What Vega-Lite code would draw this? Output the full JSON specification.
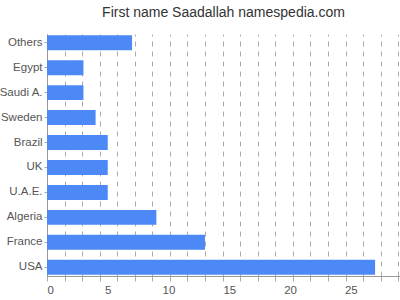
{
  "$schema": "https://vega.github.io/schema/vega-lite/v6.json",
  "width": 353,
  "height": 242,
  "autosize": {"type": "none"},
  "padding": {"left": 47, "top": 34, "right": 0, "bottom": 24},
  "title": {"text": "First name Saadallah namespedia.com", "fontSize": 14, "fontWeight": "normal", "color": "#333333", "font": "Liberation Sans", "offset": 14},
  "config": {"view": {"stroke": null}, "axis": {"labelFont": "Liberation Sans", "labelFontSize": 11.5, "labelColor": "#555555", "domainColor": "#999999", "tickColor": "#aaaaaa"}},
  "data": {"values": [
    {"country": "Others", "count": 7},
    {"country": "Egypt", "count": 3},
    {"country": "Saudi A.", "count": 3},
    {"country": "Sweden", "count": 4},
    {"country": "Brazil", "count": 5},
    {"country": "UK", "count": 5},
    {"country": "U.A.E.", "count": 5},
    {"country": "Algeria", "count": 9},
    {"country": "France", "count": 13},
    {"country": "USA", "count": 27}
  ]},
  "layer": [
    {
      "mark": {"type": "bar", "color": "#4d88f7"},
      "encoding": {
        "y": {"field": "country", "type": "nominal", "sort": null, "title": null,
              "scale": {"paddingInner": 0.4, "paddingOuter": 0.05},
              "axis": {"tickSize": 3, "labelPadding": 2, "domainColor": "#999999"}},
        "x": {"field": "count", "type": "quantitative", "title": null,
              "scale": {"domain": [0, 29.05], "nice": false, "zero": true},
              "axis": {"orient": "bottom", "values": [0, 1.445, 2.89, 4.335, 5.78, 7.225, 8.67, 10.115, 11.56, 13.005, 14.45, 15.895, 17.34, 18.785, 20.23, 21.675, 23.12, 24.565, 26.01, 27.455, 28.9],
                       "grid": true, "gridDash": [5, 5], "gridColor": "#aaaaaa", "gridWidth": 1,
                       "labels": false, "ticks": true, "tickSize": 5, "domain": true, "zindex": 0}}
      }
    },
    {
      "mark": {"type": "bar", "opacity": 0},
      "encoding": {
        "y": {"field": "country", "type": "nominal", "sort": null},
        "x": {"field": "count", "type": "quantitative", "title": null,
              "axis": {"orient": "bottom", "values": [0, 5, 10, 15, 20, 25], "grid": false, "ticks": false, "domain": false, "labels": true, "labelPadding": 8}}
      }
    }
  ],
  "resolve": {"axis": {"x": "independent"}}
}
